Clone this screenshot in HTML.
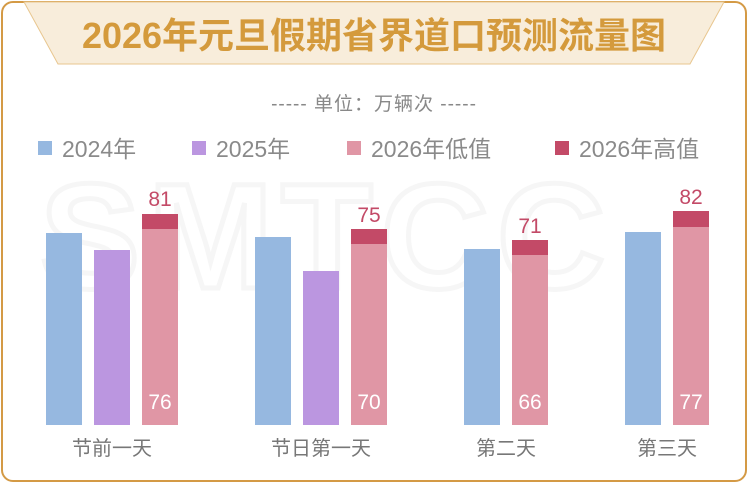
<!DOCTYPE html>
<html><head><meta charset="utf-8"><style>
body{margin:0;width:748px;height:482px;background:#fff;overflow:hidden;font-family:"Liberation Sans","Noto Sans CJK SC",sans-serif}
.abs{position:absolute}
.b{position:absolute;width:36px}
.t{position:absolute;font-size:21px;width:36px;text-align:center}
.lg{position:absolute;top:130px;font-size:23px;color:#8a8a8a}
.lg i{display:inline-block;width:14px;height:14px;margin-right:10px;vertical-align:2px}
.x{position:absolute;top:432px;font-size:20px;color:#777;text-align:center;width:160px}
</style></head><body>
<div class="abs" style="left:1px;top:1px;width:742px;height:477px;border:2px solid #d49a45;border-radius:12px"></div>
<svg class="abs" style="left:0;top:0" width="748" height="70"><polygon points="24,2 724,2 690,64 58,64" fill="#f8eddb" stroke="#e8c68f" stroke-width="1"/></svg>
<div class="abs" style="left:0;width:748px;top:14px;text-align:center;font-size:36px;line-height:44px;font-weight:bold;color:#d49a3c">2026年元旦假期省界道口预测流量图</div>
<div class="abs" style="left:0;width:748px;top:89px;text-align:center;font-size:19px;color:#888;letter-spacing:1px">----- 单位：万辆次 -----</div>
<div class="lg" style="left:38px"><i style="background:#96b8e0"></i>2024年</div>
<div class="lg" style="left:192px"><i style="background:#bb96e0"></i>2025年</div>
<div class="lg" style="left:347px"><i style="background:#e096a5"></i>2026年低值</div>
<div class="lg" style="left:555px"><i style="background:#c34a67"></i>2026年高值</div>
<div class="abs" style="left:40px;top:150px;font-size:150px;font-weight:bold;color:transparent;-webkit-text-stroke:5px #f6f6f6;letter-spacing:8px">SMTCC</div>
<div class="b" style="left:46px;top:233px;height:192px;background:#96b8e0"></div>
<div class="b" style="left:94px;top:250px;height:175px;background:#bb96e0"></div>
<div class="b" style="left:142px;top:229px;height:196px;background:#e096a5"></div>
<div class="b" style="left:142px;top:214px;height:15px;background:#c34a67"></div>
<div class="b" style="left:255px;top:237px;height:188px;background:#96b8e0"></div>
<div class="b" style="left:303px;top:271px;height:154px;background:#bb96e0"></div>
<div class="b" style="left:351px;top:244px;height:181px;background:#e096a5"></div>
<div class="b" style="left:351px;top:229px;height:15px;background:#c34a67"></div>
<div class="b" style="left:464px;top:249px;height:176px;background:#96b8e0"></div>
<div class="b" style="left:512px;top:255px;height:170px;background:#e096a5"></div>
<div class="b" style="left:512px;top:240px;height:15px;background:#c34a67"></div>
<div class="b" style="left:625px;top:232px;height:193px;background:#96b8e0"></div>
<div class="b" style="left:673px;top:227px;height:198px;background:#e096a5"></div>
<div class="b" style="left:673px;top:211px;height:16px;background:#c34a67"></div>
<div class="t" style="left:142px;top:188px;color:#c34a67">81</div>
<div class="t" style="left:351px;top:204px;color:#c34a67">75</div>
<div class="t" style="left:512px;top:215px;color:#c34a67">71</div>
<div class="t" style="left:673px;top:186px;color:#c34a67">82</div>
<div class="t" style="left:142px;top:391px;color:#fff">76</div>
<div class="t" style="left:351px;top:391px;color:#fff">70</div>
<div class="t" style="left:512px;top:391px;color:#fff">66</div>
<div class="t" style="left:673px;top:391px;color:#fff">77</div>
<div class="x" style="left:32px">节前一天</div>
<div class="x" style="left:241px">节日第一天</div>
<div class="x" style="left:426px">第二天</div>
<div class="x" style="left:587px">第三天</div>
</body></html>
